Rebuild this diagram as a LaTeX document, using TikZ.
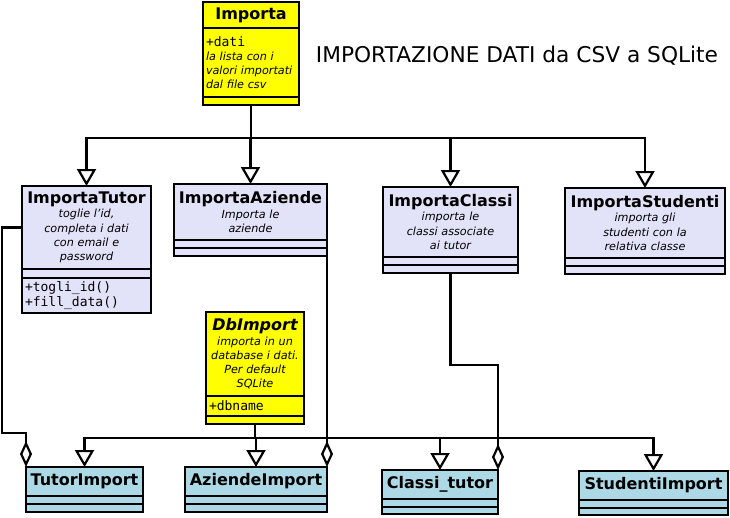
\documentclass[tikz,border=0pt]{standalone}
\usepackage{fontspec}
\setmainfont{DejaVu Sans}
\newfontfamily\umlmono{DejaVu Sans Mono}
\usetikzlibrary{positioning,arrows.meta}
\definecolor{impyellow}{RGB}{255,255,0}
\definecolor{implavender}{RGB}{226,226,248}
\definecolor{impblue}{RGB}{173,216,230}
\newcommand{\clname}[1]{{\fontsize{16}{18}\selectfont\upshape\bfseries #1}}
\newcommand{\clnote}{\fontsize{11.2}{14.2}\selectfont\itshape\hyphenpenalty=10000}
\newcommand{\clattr}{\fontsize{13}{15}\selectfont\upshape\umlmono}
\tikzstyle{compart}=[draw=black,line width=2.2pt,outer sep=0pt,inner xsep=3pt,inner ysep=0pt,anchor=north west]
\tikzstyle{yellowclass}=[compart,fill=impyellow]
\tikzstyle{lavclass}=[compart,fill=implavender]
\tikzstyle{blueclass}=[compart,fill=impblue]
\tikzstyle{inherit}=[line width=2.2pt,-{Triangle[open,length=17pt,width=19pt]}]
\tikzstyle{aggreg}=[line width=2.2pt,-{Diamond[open,length=26pt,width=12pt]}]

\begin{document}
\begin{tikzpicture}[x=1pt,y=-1pt]
                    \useasboundingbox (0,0) rectangle (730,517);
                    \node (title) at (517,56) {\fontsize{21.7}{26}\selectfont IMPORTAZIONE DATI da CSV a SQLite};

                    % classe base
                    \node (imp) at (203,2) [yellowclass,minimum width=96pt,minimum height=26pt] {\clname{Importa}};
                    \node (impa) [yellowclass,below=0pt of imp,minimum width=96pt,minimum height=69pt,text width=90pt,align=left,font=\clnote] {{\clattr +dati}\\la lista con i\\valori importati\\dal file csv};
                    \node (impo) [yellowclass,below=0pt of impa,minimum width=96pt,minimum height=8pt] {};

                    % importatori
                    \node (itut) at (22,186) [lavclass,minimum width=129pt,minimum height=83pt,text width=123pt,align=center,font=\clnote] {\clname{ImportaTutor}\\toglie l'id,\\completa i dati\\con email e\\password};
                    \node (ituta) [lavclass,below=0pt of itut,minimum width=129pt,minimum height=9pt] {};
                    \node (ituto) [lavclass,below=0pt of ituta,minimum width=129pt,minimum height=35pt,text width=123pt,align=left,font=\clattr] {+togli\_id()\\+fill\_data()};

                    \node (iaz) at (174,184) [lavclass,minimum width=153pt,minimum height=56pt,text width=147pt,align=center,font=\clnote] {\clname{ImportaAziende}\\Importa le\\aziende};
                    \node (iaza) [lavclass,below=0pt of iaz,minimum width=153pt,minimum height=8pt] {};
                    \node (iazo) [lavclass,below=0pt of iaza,minimum width=153pt,minimum height=8pt] {};

                    \node (icl) at (383,187) [lavclass,minimum width=135pt,minimum height=70pt,text width=129pt,align=center,font=\clnote] {\clname{ImportaClassi}\\importa le\\classi associate\\ai tutor};
                    \node (icla) [lavclass,below=0pt of icl,minimum width=135pt,minimum height=8pt] {};
                    \node (iclo) [lavclass,below=0pt of icla,minimum width=135pt,minimum height=8pt] {};

                    \node (ist) at (565,188) [lavclass,minimum width=160pt,minimum height=70pt,text width=154pt,align=center,font=\clnote] {\clname{ImportaStudenti}\\importa gli\\studenti con la\\relativa classe};
                    \node (ista) [lavclass,below=0pt of ist,minimum width=160pt,minimum height=8pt] {};
                    \node (isto) [lavclass,below=0pt of ista,minimum width=160pt,minimum height=8pt] {};

                    % database
                    \node (db) at (206,312) [yellowclass,minimum width=98pt,minimum height=84pt,text width=92pt,align=center,font=\clnote] {{\fontsize{16}{18}\selectfont\bfseries\itshape DbImport}\\importa in un\\database i dati.\\Per default\\SQLite};
                    \node (dba) [yellowclass,below=0pt of db,minimum width=98pt,minimum height=20pt,text width=92pt,align=left,font=\clattr] {+dbname};
                    \node (dbo) [yellowclass,below=0pt of dba,minimum width=98pt,minimum height=8pt] {};

                    \node (timp) at (26,467) [blueclass,minimum width=117pt,minimum height=29pt] {\clname{TutorImport}};
                    \node (timpa) [blueclass,below=0pt of timp,minimum width=117pt,minimum height=8pt] {};
                    \node (timpo) [blueclass,below=0pt of timpa,minimum width=117pt,minimum height=8pt] {};

                    \node (aimp) at (185,467) [blueclass,minimum width=142pt,minimum height=29pt] {\clname{AziendeImport}};
                    \node (aimpa) [blueclass,below=0pt of aimp,minimum width=142pt,minimum height=8pt] {};
                    \node (aimpo) [blueclass,below=0pt of aimpa,minimum width=142pt,minimum height=8pt] {};

                    \node (ctut) at (382,470) [blueclass,minimum width=116pt,minimum height=29pt] {\clname{Classi\_tutor}};
                    \node (ctuta) [blueclass,below=0pt of ctut,minimum width=116pt,minimum height=8pt] {};
                    \node (ctuto) [blueclass,below=0pt of ctuta,minimum width=116pt,minimum height=7pt] {};

                    \node (simp) at (579,471) [blueclass,minimum width=149pt,minimum height=29pt] {\clname{StudentiImport}};
                    \node (simpa) [blueclass,below=0pt of simp,minimum width=149pt,minimum height=8pt] {};
                    \node (simpo) [blueclass,below=0pt of simpa,minimum width=149pt,minimum height=7pt] {};

                    % ereditarieta
                    \draw [inherit] (impo.south) -- ++(0,33) -| (itut.north);
                    \draw [inherit] (impo.south) -- ++(0,33) -| (iaz.north);
                    \draw [inherit] (impo.south) -- ++(0,33) -| (icl.north);
                    \draw [inherit] (impo.south) -- ++(0,33) -| (ist.north);

                    \draw [inherit] (dbo.south) -- ++(0,14) -| (timp.north);
                    \draw [inherit] (dbo.south) -- ++(0,14) -| (aimp.north);
                    \draw [inherit] (dbo.south) -- ++(0,14) -| (ctut.north);
                    \draw [inherit] (dbo.south) -- ++(0,14) -| (simp.north);

                    % aggregazioni
                    \draw [aggreg] (itut.west) -| (2,433) -| (timp.north west);
                    \draw [aggreg] (iazo.south east) -- (aimp.north east);
                    \draw [aggreg] (iclo.south) -- ++(0,92) -| (ctut.north east);
                \end{tikzpicture}
\end{document}
